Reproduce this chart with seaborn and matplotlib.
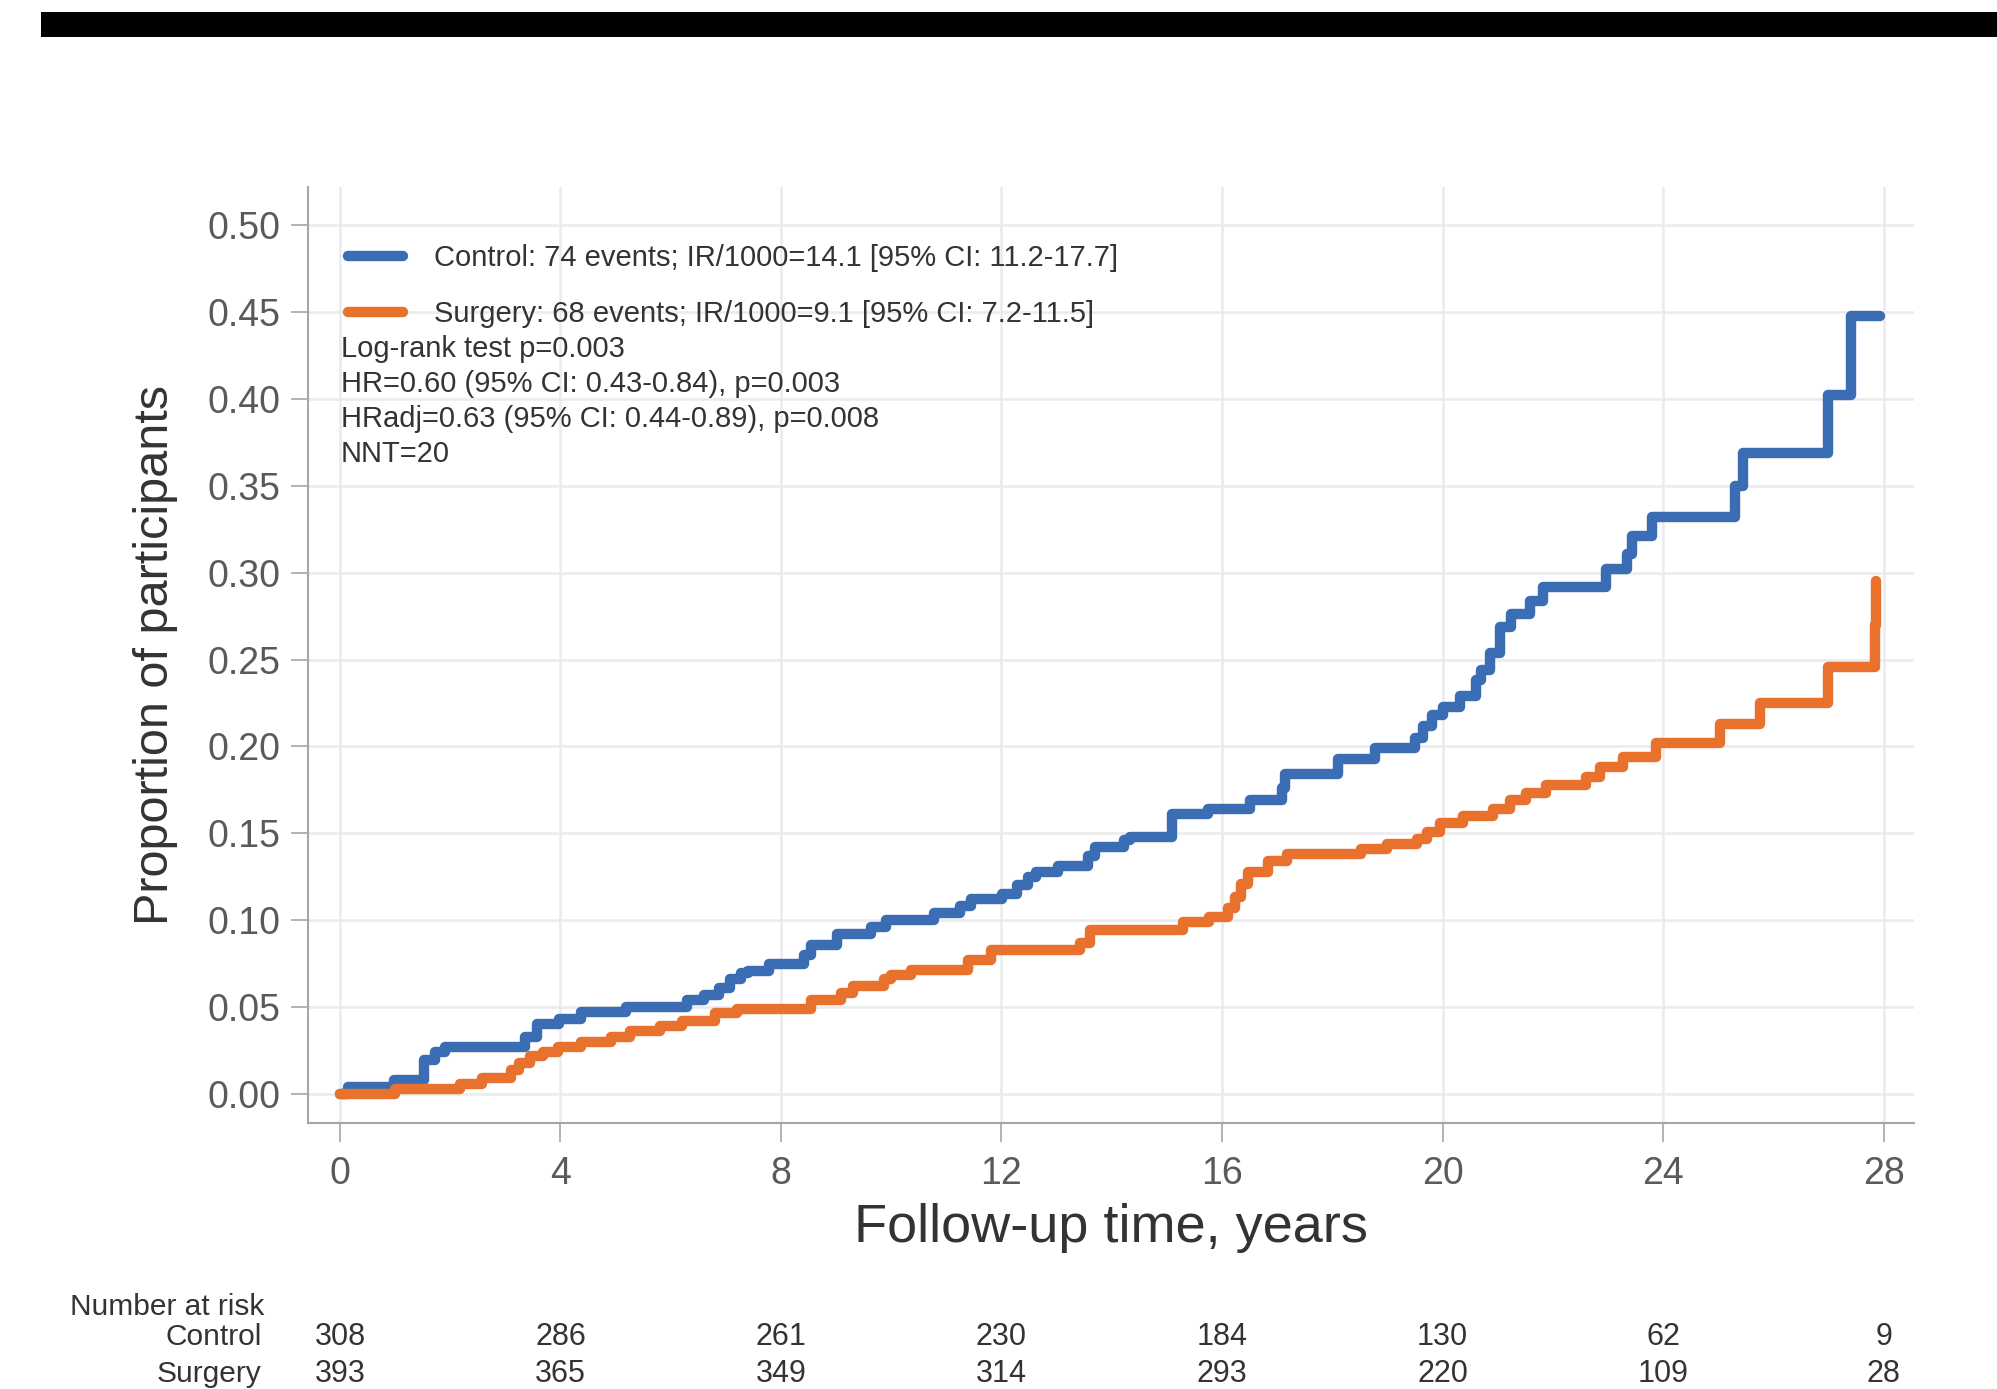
import matplotlib
matplotlib.use('Agg')
import matplotlib.pyplot as plt
from matplotlib.lines import Line2D
from matplotlib.patches import Rectangle
from matplotlib.transforms import blended_transform_factory
import pandas as pd
import seaborn as sns

# Cumulative incidence curves
control_time = [0, 0.15, 0.99, 1.53, 1.72, 1.9, 3.35, 3.58, 3.98, 4.38, 5.19, 6.3, 6.6, 6.87, 7.07,
                7.27, 7.41, 7.78, 8.42, 8.55, 9.02, 9.63, 9.9, 10.77, 11.24, 11.44, 12.01, 12.28,
                12.48, 12.62, 13.02, 13.56, 13.69, 14.23, 14.33, 15.1, 15.74, 16.5, 17.08, 17.15,
                18.1, 18.78, 19.5, 19.65, 19.8, 20.0, 20.31, 20.61, 20.7, 20.86, 21.04, 21.25,
                21.58, 21.82, 22.97, 23.35, 23.44, 23.8, 25.31, 25.45, 27.0, 27.41, 27.93]
control_prop = [0, 0.004, 0.008, 0.0195, 0.024, 0.027, 0.033, 0.040, 0.043, 0.047, 0.050, 0.054,
                0.057, 0.061, 0.066, 0.0695, 0.071, 0.075, 0.080, 0.0856, 0.092, 0.096, 0.100,
                0.104, 0.108, 0.112, 0.115, 0.120, 0.125, 0.128, 0.131, 0.137, 0.142, 0.146,
                0.148, 0.161, 0.164, 0.169, 0.176, 0.184, 0.193, 0.199, 0.205, 0.212, 0.218,
                0.223, 0.229, 0.238, 0.244, 0.254, 0.269, 0.276, 0.284, 0.292, 0.302, 0.311,
                0.321, 0.332, 0.350, 0.369, 0.402, 0.448, 0.448]

surgery_time = [0, 1.0, 2.17, 2.57, 3.11, 3.24, 3.44, 3.68, 3.95, 4.38, 4.92, 5.26, 5.8, 6.2, 6.8,
                7.2, 8.55, 9.09, 9.3, 9.86, 10.0, 10.36, 11.4, 11.81, 13.42, 13.6, 15.3, 15.77,
                16.1, 16.24, 16.34, 16.48, 16.84, 17.18, 18.52, 18.99, 19.53, 19.71, 19.95, 20.37,
                20.92, 21.22, 21.52, 21.88, 22.6, 22.85, 23.27, 23.88, 25.03, 25.75, 27.0, 27.84,
                27.86]
surgery_prop = [0, 0.003, 0.006, 0.009, 0.014, 0.018, 0.022, 0.024, 0.027, 0.030, 0.033, 0.036,
                0.039, 0.042, 0.0465, 0.049, 0.054, 0.058, 0.062, 0.066, 0.0685, 0.0714, 0.077,
                0.083, 0.087, 0.0944, 0.099, 0.102, 0.107, 0.1135, 0.121, 0.128, 0.134, 0.138,
                0.141, 0.144, 0.147, 0.151, 0.156, 0.160, 0.164, 0.169, 0.173, 0.178, 0.1826,
                0.188, 0.194, 0.202, 0.213, 0.225, 0.246, 0.270, 0.295]

# Number at risk table
risk_times = [0, 4, 8, 12, 16, 20, 24, 28]
risk_control = [308, 286, 261, 230, 184, 130, 62, 9]
risk_surgery = [393, 365, 349, 314, 293, 220, 109, 28]

groups = ['Control', 'Surgery']
legend_labels = ['Control: 74 events; IR/1000=14.1 [95% CI: 11.2-17.7]',
                 'Surgery: 68 events; IR/1000=9.1 [95% CI: 7.2-11.5]']
stats_lines = ['Log-rank test p=0.003',
               'HR=0.60 (95% CI: 0.43-0.84), p=0.003',
               'HRadj=0.63 (95% CI: 0.44-0.89), p=0.008',
               'NNT=20']

colores = {'Control': '#3A6DB4', 'Surgery': '#E8722D'}

df = pd.concat([
    pd.DataFrame({'time': control_time, 'prop': control_prop, 'group': 'Control'}),
    pd.DataFrame({'time': surgery_time, 'prop': surgery_prop, 'group': 'Surgery'}),
], ignore_index=True)

sns.set_theme(style='whitegrid')
plt.rcParams['font.family'] = ['Liberation Sans', 'DejaVu Sans']

fig, ax = plt.subplots(figsize=(19.97, 13.89), dpi=100)
fig.subplots_adjust(left=0.1542, right=0.9584, bottom=0.1915, top=0.8654)

sns.lineplot(data=df, x='time', y='prop', hue='group', palette=colores, estimator=None,
             drawstyle='steps-post', linewidth=7.5, legend=False, ax=ax)

ax.set_xlim(-0.58, 28.55)
ax.set_ylim(-0.0167, 0.522)
ax.set_xticks(risk_times)
ax.set_yticks([i * 0.05 for i in range(11)])
ax.set_yticklabels([f'{i * 0.05:.2f}' for i in range(11)])

ax.grid(True, color='#ebebeb', linewidth=1.8)
ax.set_axisbelow(True)
for side in ['top', 'right']:
    ax.spines[side].set_visible(False)
for side in ['left', 'bottom']:
    ax.spines[side].set_color('#a6a6a6')
    ax.spines[side].set_linewidth(1.5)

ax.tick_params(axis='y', length=12, width=1.2, color='#a6a6a6', pad=8,
               labelsize=27, labelcolor='#5a5a5a', left=True)
ax.tick_params(axis='x', length=14, width=1.2, color='#a6a6a6', pad=10,
               labelsize=27, labelcolor='#5a5a5a', bottom=True)

ax.set_xlabel('Follow-up time, years', fontsize=39, color='#333333')
ax.set_ylabel('Proportion of participants', fontsize=35, color='#333333')
ax.xaxis.set_label_coords(0.5, -0.085)
ax.yaxis.set_label_coords(-0.081, 0.5)

handles = [Line2D([0], [0], color=colores[g], lw=7.5) for g in groups]
ax.legend(handles, legend_labels, loc='upper left', bbox_to_anchor=(0.0249, 0.939),
          frameon=False, fontsize=21, handlelength=1.9, handletextpad=1.05,
          labelspacing=0.95, borderpad=0, borderaxespad=0, labelcolor='#333333')

stats_y = [0.8273, 0.789, 0.7526, 0.7142]
for txt, yy in zip(stats_lines, stats_y):
    ax.text(0.0205, yy, txt, transform=ax.transAxes, fontsize=21, color='#333333',
            va='center', ha='left')

# Number at risk
trans = blended_transform_factory(ax.transData, fig.transFigure)
fig.text(0.035, 0.059, 'Number at risk', fontsize=21.5, color='#333333', va='center', ha='left')
fig.text(0.131, 0.0374, 'Control', fontsize=21.5, color='#333333', va='center', ha='right')
fig.text(0.131, 0.0108, 'Surgery', fontsize=21.5, color='#333333', va='center', ha='right')
for t, c, s in zip(risk_times, risk_control, risk_surgery):
    ax.text(t, 0.0374, str(c), transform=trans, fontsize=22, color='#333333',
            va='center', ha='center', clip_on=False)
    ax.text(t, 0.0108, str(s), transform=trans, fontsize=22, color='#333333',
            va='center', ha='center', clip_on=False)

# black bar across the top
fig.patches.append(Rectangle((0.0205, 0.9734), 0.98, 0.0183, transform=fig.transFigure,
                             facecolor='black', edgecolor='none'))

fig.savefig('out.png', dpi=100)
